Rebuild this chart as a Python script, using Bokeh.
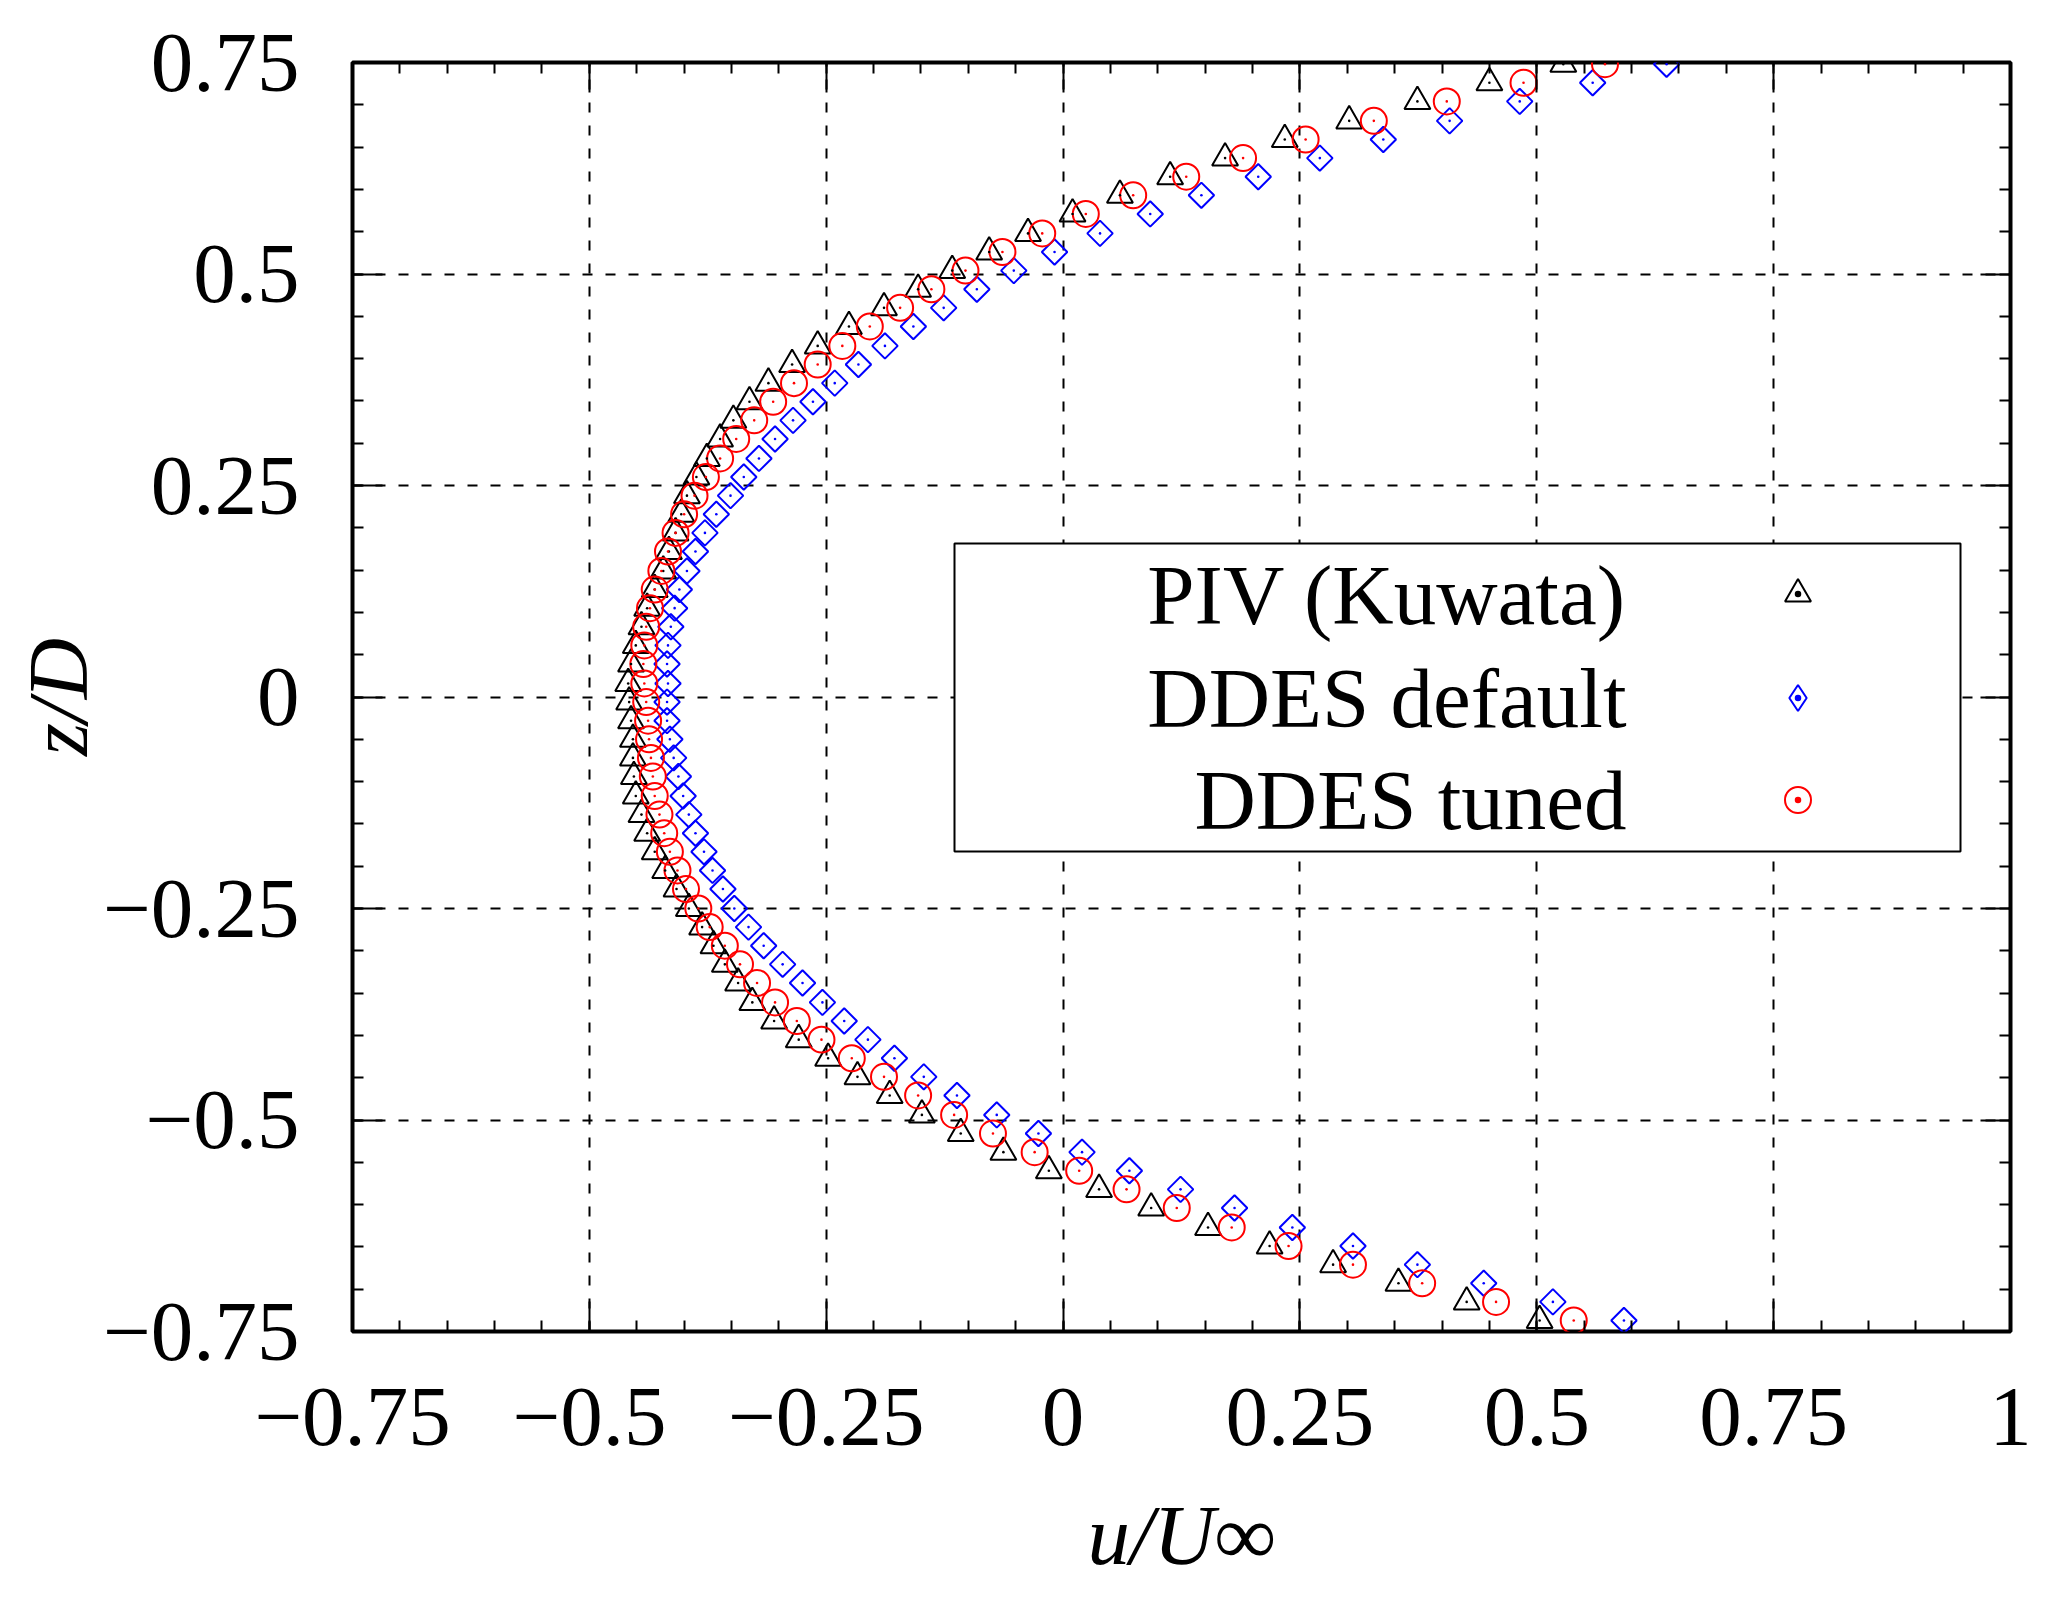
import numpy as np
from bokeh.plotting import figure
from bokeh.models import (Range1d, FixedTicker, LinearAxis, Label, BoxAnnotation,
                          Legend, LegendItem, CustomJSTickFormatter, ColumnDataSource)
from bokeh.embed import file_html
from bokeh.resources import INLINE

# ---------------- data ----------------
z = [0.748, 0.726, 0.704, 0.681, 0.659, 0.637, 0.615, 0.593, 0.571, 0.548,
     0.526, 0.504, 0.482, 0.460, 0.438, 0.415, 0.393, 0.371, 0.349, 0.327,
     0.305, 0.282, 0.260, 0.238, 0.216, 0.194, 0.172, 0.149, 0.127, 0.105,
     0.083, 0.061, 0.039, 0.016, -0.006, -0.028, -0.050, -0.072, -0.094, -0.117,
     -0.139, -0.161, -0.183, -0.205, -0.227, -0.250, -0.272, -0.294, -0.316, -0.338,
     -0.361, -0.383, -0.405, -0.427, -0.449, -0.471, -0.494, -0.516, -0.538, -0.560,
     -0.582, -0.604, -0.627, -0.649, -0.671, -0.693, -0.715, -0.737]

u_piv = [0.528, 0.450, 0.374, 0.302, 0.234, 0.171, 0.113, 0.060, 0.010, -0.037,
         -0.078, -0.117, -0.153, -0.189, -0.226, -0.259, -0.286, -0.311, -0.331, -0.348,
         -0.362, -0.376, -0.387, -0.397, -0.403, -0.409, -0.416, -0.422, -0.431, -0.439,
         -0.445, -0.451, -0.456, -0.459, -0.458, -0.456, -0.454, -0.454, -0.453, -0.451,
         -0.445, -0.439, -0.431, -0.420, -0.408, -0.395, -0.381, -0.369, -0.357, -0.343,
         -0.328, -0.305, -0.279, -0.248, -0.217, -0.183, -0.149, -0.108, -0.063, -0.015,
         0.038, 0.093, 0.153, 0.218, 0.285, 0.354, 0.426, 0.503]

u_default = [0.637, 0.559, 0.482, 0.408, 0.338, 0.271, 0.206, 0.146, 0.092, 0.039,
             -0.009, -0.052, -0.091, -0.126, -0.158, -0.188, -0.216, -0.241, -0.264, -0.285,
             -0.304, -0.321, -0.337, -0.351, -0.366, -0.378, -0.388, -0.397, -0.405, -0.410,
             -0.414, -0.417, -0.418, -0.417, -0.418, -0.418, -0.415, -0.411, -0.406, -0.401,
             -0.395, -0.388, -0.379, -0.370, -0.359, -0.347, -0.332, -0.316, -0.296, -0.275,
             -0.254, -0.231, -0.206, -0.178, -0.147, -0.112, -0.070, -0.026, 0.020, 0.070,
             0.124, 0.181, 0.242, 0.306, 0.374, 0.444, 0.517, 0.592]

u_tuned = [0.572, 0.486, 0.405, 0.328, 0.256, 0.190, 0.130, 0.074, 0.024, -0.022,
           -0.064, -0.103, -0.139, -0.172, -0.204, -0.233, -0.259, -0.284, -0.306, -0.326,
           -0.345, -0.362, -0.377, -0.389, -0.400, -0.409, -0.417, -0.424, -0.431, -0.436,
           -0.440, -0.442, -0.443, -0.442, -0.440, -0.438, -0.437, -0.435, -0.433, -0.431,
           -0.426, -0.421, -0.415, -0.407, -0.398, -0.385, -0.373, -0.357, -0.341, -0.323,
           -0.304, -0.281, -0.255, -0.223, -0.189, -0.153, -0.115, -0.074, -0.030, 0.017,
           0.067, 0.120, 0.178, 0.238, 0.306, 0.379, 0.457, 0.539]

series_names = ["PIV (Kuwata)", "DDES default", "DDES tuned"]
series_colors = ["black", "#0000ff", "#ff0000"]

x_ticks = [-0.75, -0.5, -0.25, 0.0, 0.25, 0.5, 0.75, 1.0]
x_tick_labels = ["\u22120.75", "\u22120.5", "\u22120.25", "0", "0.25", "0.5", "0.75", "1"]
y_ticks = [-0.75, -0.5, -0.25, 0.0, 0.25, 0.5, 0.75]
y_tick_labels = ["\u22120.75", "\u22120.5", "\u22120.25", "0", "0.25", "0.5", "0.75"]
x_minor = [round(-0.75 + 0.05 * k, 2) for k in range(36)]
y_minor = [round(-0.75 + 0.05 * k, 2) for k in range(31)]

x_title = "u/U\u221e"
y_title = "z/D"

# ---------------- layout constants (page pixels) ----------------
FONT = "Liberation Serif"
FS = "85px"
FRAME_L, FRAME_T, FRAME_W, FRAME_H = 352, 62, 1658, 1269
FRAME_B = FRAME_T + FRAME_H
CANVAS_W, CANVAS_H = 2039, 1589


def sx(X):
    return X - FRAME_L


def sy(Y):
    return FRAME_B - Y


p = figure(frame_width=FRAME_W, frame_height=FRAME_H,
           x_range=Range1d(-0.75, 1.0), y_range=Range1d(-0.75, 0.75),
           output_backend="svg", toolbar_location=None,
           min_border_left=FRAME_L, min_border_top=FRAME_T,
           min_border_right=CANVAS_W - FRAME_L - FRAME_W,
           min_border_bottom=CANVAS_H - FRAME_T - FRAME_H,
           background_fill_color="white", border_fill_color="white")

p.outline_line_color = "black"
p.outline_line_width = 4
p.outline_line_alpha = 1.0


def style_axis(ax, ticks, minor, labels, standoff):
    ax.ticker = FixedTicker(ticks=ticks, minor_ticks=minor)
    ax.axis_line_color = None
    ax.major_tick_in = 30
    ax.major_tick_out = 0
    ax.minor_tick_in = 11
    ax.minor_tick_out = 0
    ax.major_tick_line_width = 2
    ax.minor_tick_line_width = 2
    ax.major_tick_line_color = "black"
    ax.minor_tick_line_color = "black"
    if labels is None:
        ax.formatter = CustomJSTickFormatter(code="return ''")
        ax.major_label_text_font_size = "1px"
    else:
        ax.major_label_overrides = dict(zip(ticks, labels))
        ax.major_label_text_font = FONT
        ax.major_label_text_font_size = FS
        ax.major_label_text_color = "black"
        ax.major_label_standoff = standoff


style_axis(p.xaxis[0], x_ticks, x_minor, x_tick_labels, 57)
style_axis(p.yaxis[0], y_ticks, y_minor, y_tick_labels, 53)

for ax, title, st in ((p.xaxis[0], x_title, 40), (p.yaxis[0], y_title, -5)):
    ax.axis_label = title
    ax.axis_label_text_font = FONT
    ax.axis_label_text_font_size = FS
    ax.axis_label_text_font_style = "italic"
    ax.axis_label_text_color = "black"
    ax.axis_label_standoff = st

top_ax = LinearAxis()
right_ax = LinearAxis()
style_axis(top_ax, x_ticks, x_minor, None, 0)
style_axis(right_ax, y_ticks, y_minor, None, 0)
p.add_layout(top_ax, "above")
p.add_layout(right_ax, "right")

for g, t in ((p.xgrid[0], x_ticks), (p.ygrid[0], y_ticks)):
    g.ticker = FixedTicker(ticks=t)
    g.grid_line_color = "black"
    g.grid_line_width = 2
    g.grid_line_dash = "10 13"

src = ColumnDataSource(dict(z=z, piv=u_piv, dflt=u_default, tuned=u_tuned))
cols = ["piv", "dflt", "tuned"]

r_piv = p.scatter("piv", "z", source=src, marker="triangle", size=26,
                  line_color=series_colors[0], fill_color=None, line_width=2)
r_def = p.scatter("dflt", "z", source=src, marker="square", angle=np.pi / 4, size=18,
                  line_color=series_colors[1], fill_color=None, line_width=2)
r_tun = p.scatter("tuned", "z", source=src, marker="circle", size=26,
                  line_color=series_colors[2], fill_color=None, line_width=2)
# small centre dots of each marker
for c, col in zip(cols, series_colors):
    p.scatter(c, "z", source=src, marker="circle", size=2.6,
              fill_color=col, line_color=None)

# legend keys (the legend does not rotate markers, so the key uses a diamond)
key_markers = ["triangle_dot", "diamond_dot", "circle_dot"]
keys = [p.scatter(c, "z", source=src, marker=m, size=26, line_color=col,
                  fill_color=None, line_width=2, visible=False)
        for c, m, col in zip(cols, key_markers, series_colors)]

# ---------------- legend ----------------
box = BoxAnnotation(left=sx(954), right=sx(1960), bottom=sy(851), top=sy(543),
                    left_units="screen", right_units="screen",
                    bottom_units="screen", top_units="screen",
                    fill_color="white", fill_alpha=1.0,
                    line_color="black", line_width=2, line_alpha=1.0)
p.add_layout(box)

LEG_GX = 1797
LEG_TX = 1626
GPX = 65
glyph_cy = [593, 697, 799]
text_cy = [594, 697, 799]
for rend, cy, ty, name in zip(keys, glyph_cy, text_cy, series_names):
    lg = Legend(items=[LegendItem(label=" ", renderers=[rend])],
                location=(sx(LEG_GX - GPX / 2), sy(cy + GPX / 2)),
                glyph_width=GPX, glyph_height=GPX, padding=0, margin=0,
                label_standoff=0, label_width=0, label_height=0,
                label_text_font_size="1px", spacing=0,
                border_line_color=None, background_fill_alpha=0)
    p.add_layout(lg)
    p.add_layout(Label(x=sx(LEG_TX), y=sy(ty), x_units="screen", y_units="screen",
                       text=name, text_font=FONT, text_font_size=FS,
                       text_align="right", text_baseline="middle",
                       text_color="black"))

open("out.html", "w").write(file_html(p, INLINE))
